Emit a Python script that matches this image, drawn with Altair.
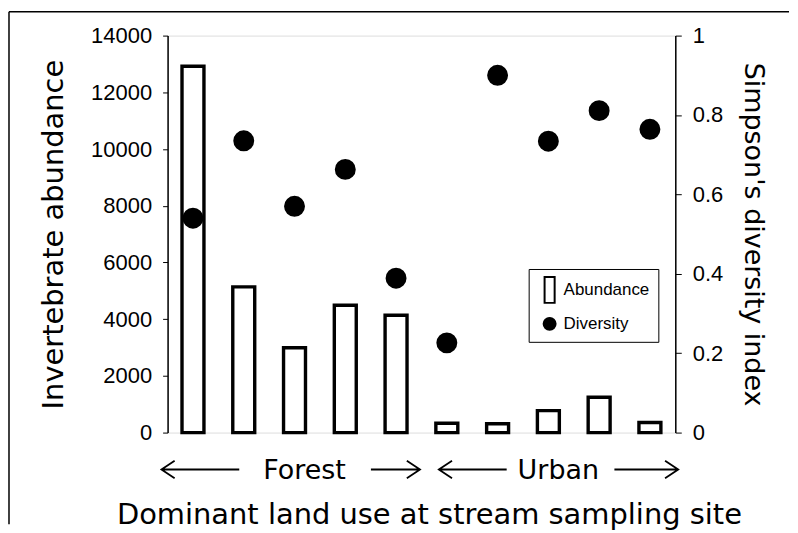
import altair as alt
import pandas as pd

sites = ["F1", "F2", "F3", "F4", "F5", "U1", "U2", "U3", "U4", "U5"]
abundance = [12920, 5140, 2990, 4490, 4140, 330, 310, 775, 1245, 355]
diversity = [0.54, 0.735, 0.57, 0.663, 0.389, 0.226, 0.90, 0.734, 0.811, 0.764]
series_names = ["Abundance", "Diversity"]
group_labels = ["Forest", "Urban"]
group_anchor = ["F3", "U3"]
arrow_keys = ["f_left", "f_right", "u_left", "u_right"]
arrow_anchor = ["F1", "F5", "U1", "U5"]

W, H = 509, 398
TITLE_FONT = "DejaVu Sans"
LABEL_FONT = "Liberation Sans"

bar_df = pd.DataFrame({"site": sites, "abundance": abundance, "series": "Abundance"})
pt_df = pd.DataFrame({"site": sites, "diversity": diversity, "series": "Diversity"})
grp_df = pd.DataFrame({"site": group_anchor, "label": group_labels})
arr_df = pd.DataFrame({"site": arrow_anchor, "arrow": arrow_keys})

xscale = alt.Scale(domain=sites, paddingInner=0, paddingOuter=0)
xenc = alt.X("site:N", scale=xscale,
             axis=alt.Axis(labels=False, ticks=False, domain=False,
                           title="Dominant land use at stream sampling site",
                           titleFont=TITLE_FONT, titleFontSize=29,
                           titleFontWeight="normal", titleColor="black",
                           titlePadding=68, titleX=262))

bars = alt.Chart(bar_df).mark_bar(size=22, fill="white", stroke="black",
                                  strokeWidth=3.4).encode(
    x=xenc,
    y=alt.Y("abundance:Q",
            scale=alt.Scale(domain=[0, 14000], nice=False),
            axis=alt.Axis(values=list(range(0, 14001, 2000)), format="d",
                          title="Invertebrate abundance", titleFont=TITLE_FONT,
                          titleFontSize=29, titleFontWeight="normal",
                          titleColor="black", titlePadding=22,
                          labelFont=LABEL_FONT, labelFontSize=22,
                          labelColor="black", labelPadding=11, tickSize=5,
                          tickColor="black", domainColor="black",
                          domainWidth=1.5, grid=False)),
)

# custom symbol paths (unit coordinates scaled by sqrt(size)/2)
circle_path = "M-0.5,0A0.5,0.5 0 1,0 0.5,0A0.5,0.5 0 1,0 -0.5,0Z"
rect_path = "M-0.42,-1.08H0.42V1.08H-0.42Z"


def make_legend():
    return alt.Legend(title=None, orient="none", legendX=362, legendY=234,
                      symbolSize=576, symbolStrokeColor="black",
                      symbolStrokeWidth=2, labelFont=LABEL_FONT,
                      labelFontSize=17, labelColor="black", labelOffset=1,
                      rowPadding=4, padding=8, strokeColor="black",
                      fillColor="white")


points = alt.Chart(pt_df).mark_point(filled=True, size=1444,
                                     strokeWidth=2, opacity=1).encode(
    x=alt.X("site:N", scale=xscale),
    y=alt.Y("diversity:Q",
            scale=alt.Scale(domain=[0, 1], nice=False),
            axis=alt.Axis(orient="right", values=[0, 0.2, 0.4, 0.6, 0.8, 1],
                          format="~g", title="Simpson's diversity index",
                          titleFont=TITLE_FONT, titleFontSize=27,
                          titleFontWeight="normal", titleColor="black",
                          titlePadding=16, labelFont=LABEL_FONT,
                          labelFontSize=22, labelColor="black",
                          labelPadding=11, tickSize=6, tickColor="black",
                          domainColor="black", domainWidth=1.5, grid=False)),
    shape=alt.Shape("series:N",
                    scale=alt.Scale(domain=series_names,
                                    range=[rect_path, circle_path]),
                    legend=make_legend()),
    fill=alt.Fill("series:N",
                  scale=alt.Scale(domain=series_names, range=["white", "black"]),
                  legend=make_legend()),
    stroke=alt.Stroke("series:N",
                      scale=alt.Scale(domain=series_names, range=["black", "black"]),
                      legend=make_legend()),
)

arrow_paths = [
    "M1.16,0L-0.79,0M-0.46,-0.22L-0.79,0L-0.46,0.22",
    "M-0.63,0L0.6,0M0.27,-0.22L0.6,0L0.27,0.22",
    "M1.5,0L-0.2,0M0.13,-0.22L-0.2,0L0.13,0.22",
    "M-0.89,0L0.71,0M0.38,-0.22L0.71,0L0.38,0.22",
]

arrows = alt.Chart(arr_df).mark_point(filled=False, size=6400, stroke="black",
                                      strokeWidth=1.8, opacity=1).encode(
    x=alt.X("site:N", scale=xscale),
    y=alt.value(H + 37),
    shape=alt.Shape("arrow:N",
                    scale=alt.Scale(domain=arrow_keys, range=arrow_paths),
                    legend=None),
)

group_text = alt.Chart(grp_df).mark_text(font=TITLE_FONT, fontSize=27,
                                         color="black", baseline="alphabetic",
                                         dx=10).encode(
    x=alt.X("site:N", scale=xscale),
    y=alt.value(H + 47),
    text="label:N",
)

frame_df = pd.DataFrame({"k": [0]})
frame_top = alt.Chart(frame_df).mark_rule(color="black", strokeWidth=1.5).encode(
    x=alt.value(-159), x2=alt.value(W + 114), y=alt.value(-24))
frame_left = alt.Chart(frame_df).mark_rule(color="black", strokeWidth=1.5).encode(
    x=alt.value(-159), y=alt.value(-24), y2=alt.value(H + 92))

chart = alt.layer(frame_top, frame_left, bars, points, arrows, group_text).resolve_scale(
    y="independent", shape="independent", fill="independent",
    stroke="independent"
).resolve_legend(
    shape="independent", fill="independent", stroke="independent"
).properties(
    width=W, height=H,
    padding={"left": 0, "top": 2, "right": 0, "bottom": 0},
).configure_view(
    stroke="#555555", strokeWidth=1
).configure(
    background="white"
)

chart.save("out.html", embed_options={"renderer": "svg", "actions": False})
